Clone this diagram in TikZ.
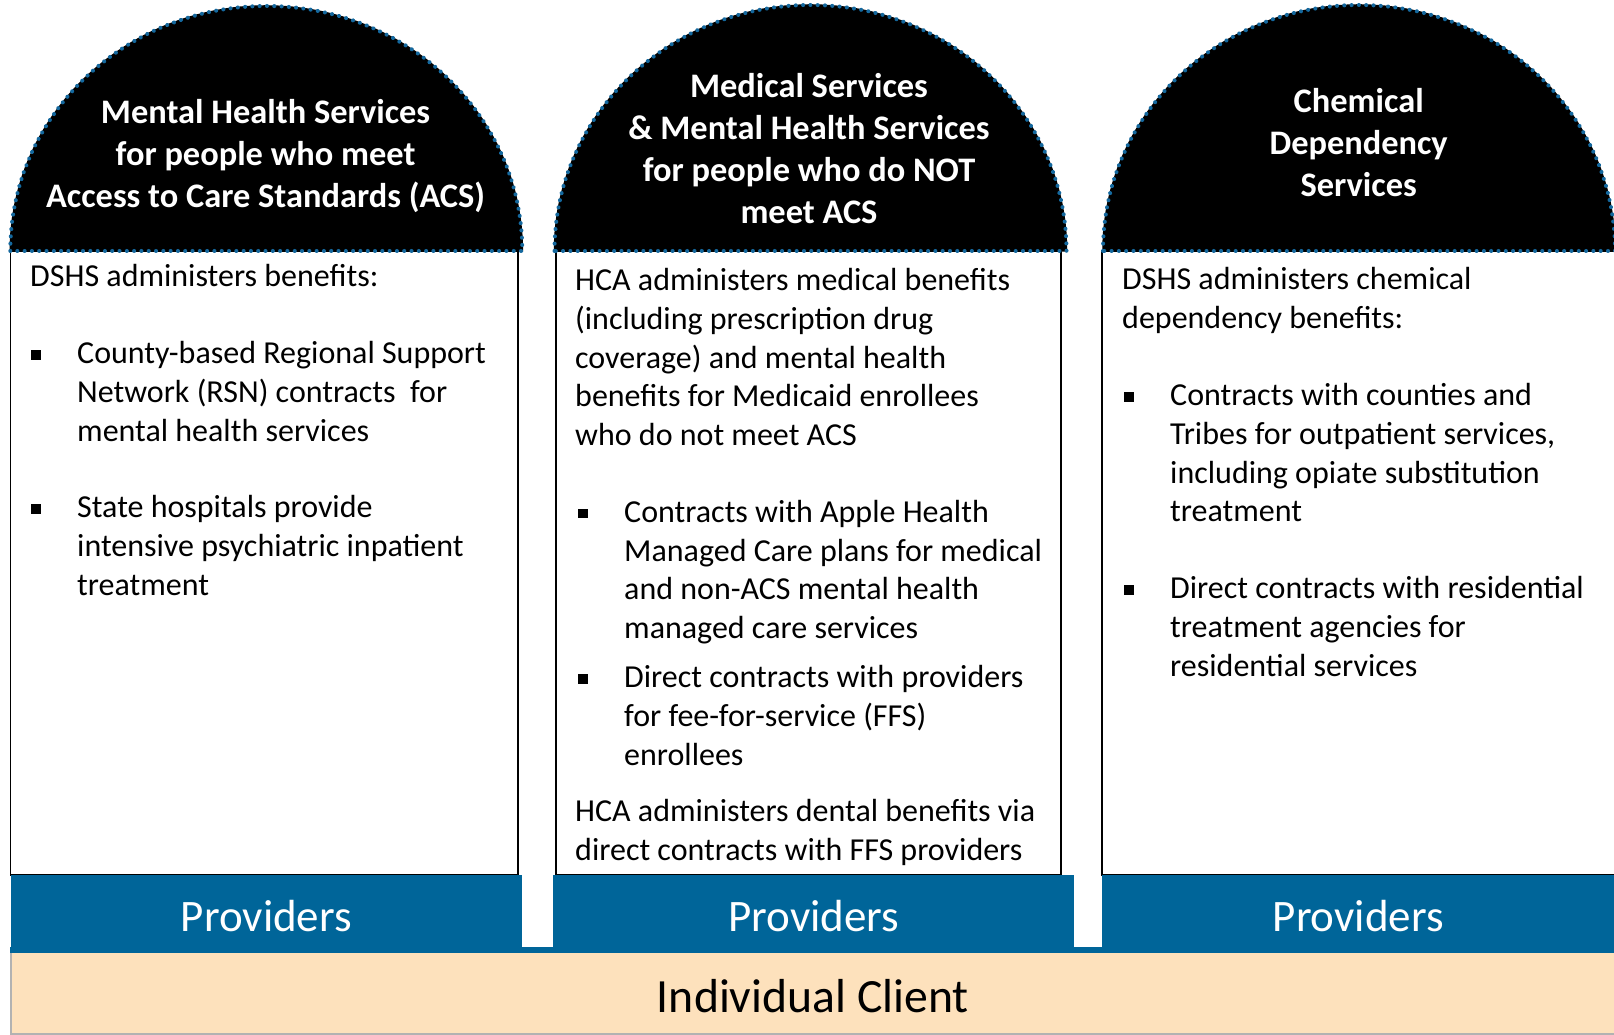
\documentclass[tikz,border=0pt]{standalone}
\usepackage{fontspec}
\setmainfont{Carlito}
\usepackage{tikz}
\usepackage{xcolor}
\usetikzlibrary{positioning}

\definecolor{provblue}{RGB}{0,101,153}
\definecolor{clientpeach}{RGB}{253,225,188}
\definecolor{rimblue}{RGB}{20,104,158}

\tikzset{
    dome/.style={fill=black, draw=black, line width=1.5pt,
        postaction={draw=rimblue, line width=4pt, line cap=round, dash pattern=on 0.1pt off 7.2pt}},
    panel/.style={draw=black, line width=1.4pt, fill=white},
    provbar/.style={fill=provblue, text=white, inner sep=0pt, minimum height=78pt,
        anchor=south west, font=\fontsize{45}{54}\selectfont},
    headtext/.style={text=white, inner sep=0pt, anchor=base,
        font=\bfseries\fontsize{34.4}{42}\selectfont},
    bodytext/.style={inner sep=0pt, anchor=base west, font=\fontsize{32}{38.6}\selectfont},
    sqbullet/.style={fill=black, inner sep=0pt, minimum size=9.5pt},
}

\begin{document}
\begin{tikzpicture}[x=1pt, y=1pt]
        \useasboundingbox (0,0) rectangle (1614,1035);

        % panels under the domes
        \draw[panel] (10.3,160) rectangle (518,784);
        \draw[panel] (556,160) rectangle (1061,784);
        \draw[panel] (1102,160) rectangle (1616,784);

        % domes
        \draw[dome] (10.3,784) arc[start angle=180, end angle=0, x radius=256, y radius=245] -- cycle;
        \draw[dome] (554.5,784) arc[start angle=180, end angle=0, x radius=256, y radius=246] -- cycle;
        \draw[dome] (1103,784) arc[start angle=180, end angle=0, x radius=256, y radius=246] -- cycle;

        \node[headtext] (mhhead) at (265.6,911) {\parbox[t]{500pt}{\centering Mental Health Services\\for people who meet\\Access to Care Standards (ACS)}};
        \node[headtext] (medhead) at (809,937) {\parbox[t]{500pt}{\centering Medical Services\\\& Mental Health Services\\for people who do NOT\\meet ACS}};
        \node[headtext] (cdhead) at (1358.7,922.5) {\parbox[t]{500pt}{\centering Chemical\\Dependency\\Services}};

        % client and providers
        \node[fill=clientpeach, draw=gray!60, line width=1.5pt, minimum width=1603.7pt, minimum height=82pt,
            anchor=south west, inner sep=0pt, font=\fontsize{47.7}{57}\selectfont] (client) at (10.3,0) {\raisebox{-3pt}[\height][\depth]{Individual Client}};
        \fill[provblue] (10.3,82) rectangle (1614,88);
        \node[provbar, minimum width=511.7pt] (mhprov) at (10.3,82) {\raisebox{-2pt}[\height][\depth]{Providers}};
        \node[provbar, minimum width=521pt] (medprov) at (553,82) {\raisebox{-2pt}[\height][\depth]{Providers}};
        \node[provbar, minimum width=512pt] (cdprov) at (1102,82) {\raisebox{-2pt}[\height][\depth]{Providers}};

        % first column
        \node[bodytext] (mhintro) at (30,748) {DSHS administers benefits:};
        \node[sqbullet] (mhdota) at (36,680) {};
        \node[bodytext] (mhitema) at (77,671) {\parbox[t]{440pt}{County-based Regional Support\\Network (RSN) contracts~ for\\mental health services}};
        \node[sqbullet] (mhdotb) at (36,526) {};
        \node[bodytext] (mhitemb) at (77,517) {\parbox[t]{440pt}{State hospitals provide\\intensive psychiatric inpatient\\treatment}};

        % second column
        \node[bodytext] (medintro) at (575,744) {\parbox[t]{480pt}{HCA administers medical benefits\\(including prescription drug\\coverage) and mental health\\benefits for Medicaid enrollees\\who do not meet ACS}};
        \node[sqbullet] (meddota) at (583,521.5) {};
        \node[bodytext] (meditema) at (624,512.5) {\parbox[t]{440pt}{Contracts with Apple Health\\Managed Care plans for medical\\and non-ACS mental health\\managed care services}};
        \node[sqbullet] (meddotb) at (583,356) {};
        \node[bodytext] (meditemb) at (624,347) {\parbox[t]{440pt}{Direct contracts with providers\\for fee-for-service (FFS)\\enrollees}};
        \node[bodytext] (meddental) at (575,213) {\parbox[t]{480pt}{HCA administers dental benefits via\\direct contracts with FFS providers}};

        % third column
        \node[bodytext] (cdintro) at (1122,745) {\parbox[t]{480pt}{DSHS administers chemical\\dependency benefits:}};
        \node[sqbullet] (cddota) at (1129,638) {};
        \node[bodytext] (cditema) at (1170,629) {\parbox[t]{440pt}{Contracts with counties and\\Tribes for outpatient services,\\including opiate substitution\\treatment}};
        \node[sqbullet] (cddotb) at (1129,445) {};
        \node[bodytext] (cditemb) at (1170,436) {\parbox[t]{440pt}{Direct contracts with residential\\treatment agencies for\\residential services}};
    \end{tikzpicture}
\end{document}
